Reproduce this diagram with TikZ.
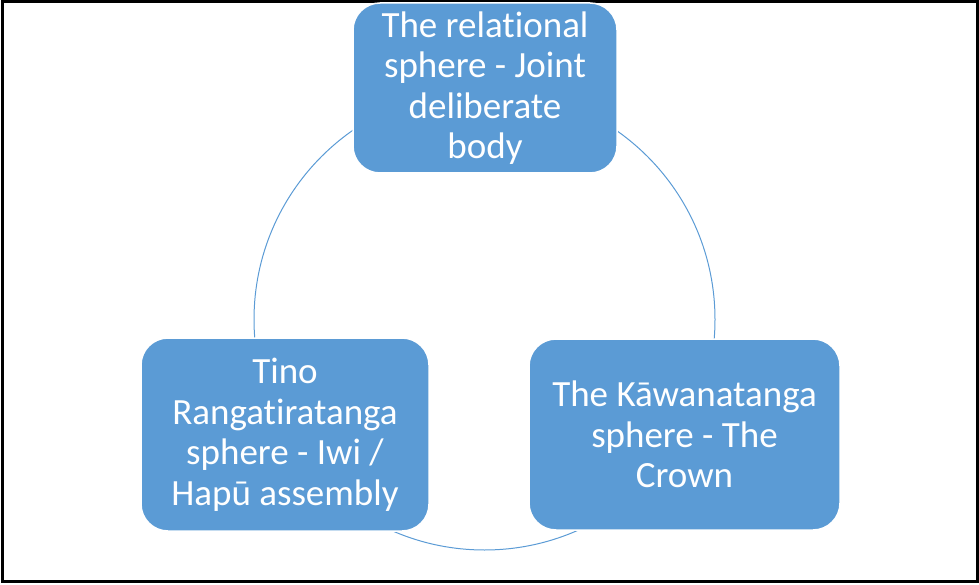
\documentclass[tikz,border=0pt]{standalone}
\usepackage{fontspec}
\setmainfont[Ligatures={NoCommon}]{Carlito}
\definecolor{sphereblue}{HTML}{5B9BD5}
\begin{document}
\begin{tikzpicture}[x=1pt,y=-1pt,
  spherebox/.style={draw=white, line width=1.5pt, fill=sphereblue,
    rounded corners=27pt, text=white, align=center, inner sep=0pt,
    font=\fontsize{37}{40.5}\selectfont},
  ring/.style={draw=sphereblue, line width=1pt}]
  \useasboundingbox (0,0) rectangle (979,585);
  % outer frame
  \draw[line width=3pt] (2,2) rectangle (977,581);
  % ring linking the three spheres
  \coordinate (hub) at (484.5,319.5);
  \draw[ring] (hub) circle[radius=230.5];
  % the three spheres
  \node[spherebox, minimum width=264pt, minimum height=170pt] (rel) at (485,88)
    {The relational\\sphere - Joint\\deliberate\\body};
  \node[spherebox, minimum width=288pt, minimum height=193pt] (tino) at (285,434.5)
    {Tino\\Rangatiratanga\\sphere - Iwi /\\Hapū assembly};
  \node[spherebox, minimum width=311pt, minimum height=191pt] (kaw) at (684.5,434.5)
    {The Kāwanatanga\\sphere - The\\Crown};
\end{tikzpicture}
\end{document}
